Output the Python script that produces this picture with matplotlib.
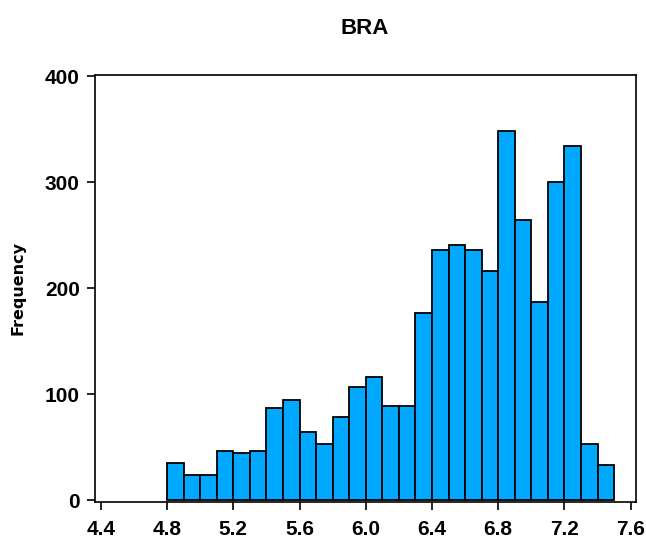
import numpy as np
import matplotlib.pyplot as plt

# histogram of BRA values, bin width 0.1 starting at 4.8
bin_left = [4.8, 4.9, 5.0, 5.1, 5.2, 5.3, 5.4, 5.5, 5.6, 5.7, 5.8, 5.9, 6.0, 6.1,
            6.2, 6.3, 6.4, 6.5, 6.6, 6.7, 6.8, 6.9, 7.0, 7.1, 7.2, 7.3, 7.4]
counts = [35, 24, 24, 46, 44, 46, 87, 94, 64, 53, 78, 107, 116, 89,
          89, 176, 236, 241, 236, 216, 348, 264, 187, 300, 334, 53, 33]
bin_width = 0.1

x_ticks = [4.4, 4.8, 5.2, 5.6, 6.0, 6.4, 6.8, 7.2, 7.6]
y_ticks = [0, 100, 200, 300, 400]

lab_font = 'Liberation Sans'

fig = plt.figure(figsize=(6.46, 5.45), dpi=100)
ax = fig.add_axes([0.147, 0.079, 0.8375, 0.7834])

ax.bar(bin_left, counts, width=bin_width, align='edge',
       color='#00A8FF', edgecolor='black', linewidth=1.3)

ax.set_xlim(4.364, 7.632)
ax.set_ylim(-1.8, 401)
ax.set_xticks(x_ticks)
ax.set_xticklabels([f'{v:.1f}' for v in x_ticks])
ax.set_yticks(y_ticks)

for lab in ax.get_xticklabels() + ax.get_yticklabels():
    lab.set_family(lab_font)
    lab.set_fontweight('bold')
    lab.set_fontsize(15)

ax.tick_params(axis='both', direction='out', length=6, width=1.2)
ax.tick_params(axis='x', pad=7)
ax.tick_params(axis='y', pad=5)
for s in ax.spines.values():
    s.set_linewidth(1.2)

fig.text(18 / 646, 1 - 288 / 545, 'Frequency', rotation=90, ha='center', va='center',
         fontsize=11.5, fontweight='bold', family='DejaVu Sans')
fig.text(0.565, 0.948, 'BRA', ha='center', va='center',
         fontsize=16, fontweight='bold', family=lab_font)

fig.savefig('out.png', dpi=100)
